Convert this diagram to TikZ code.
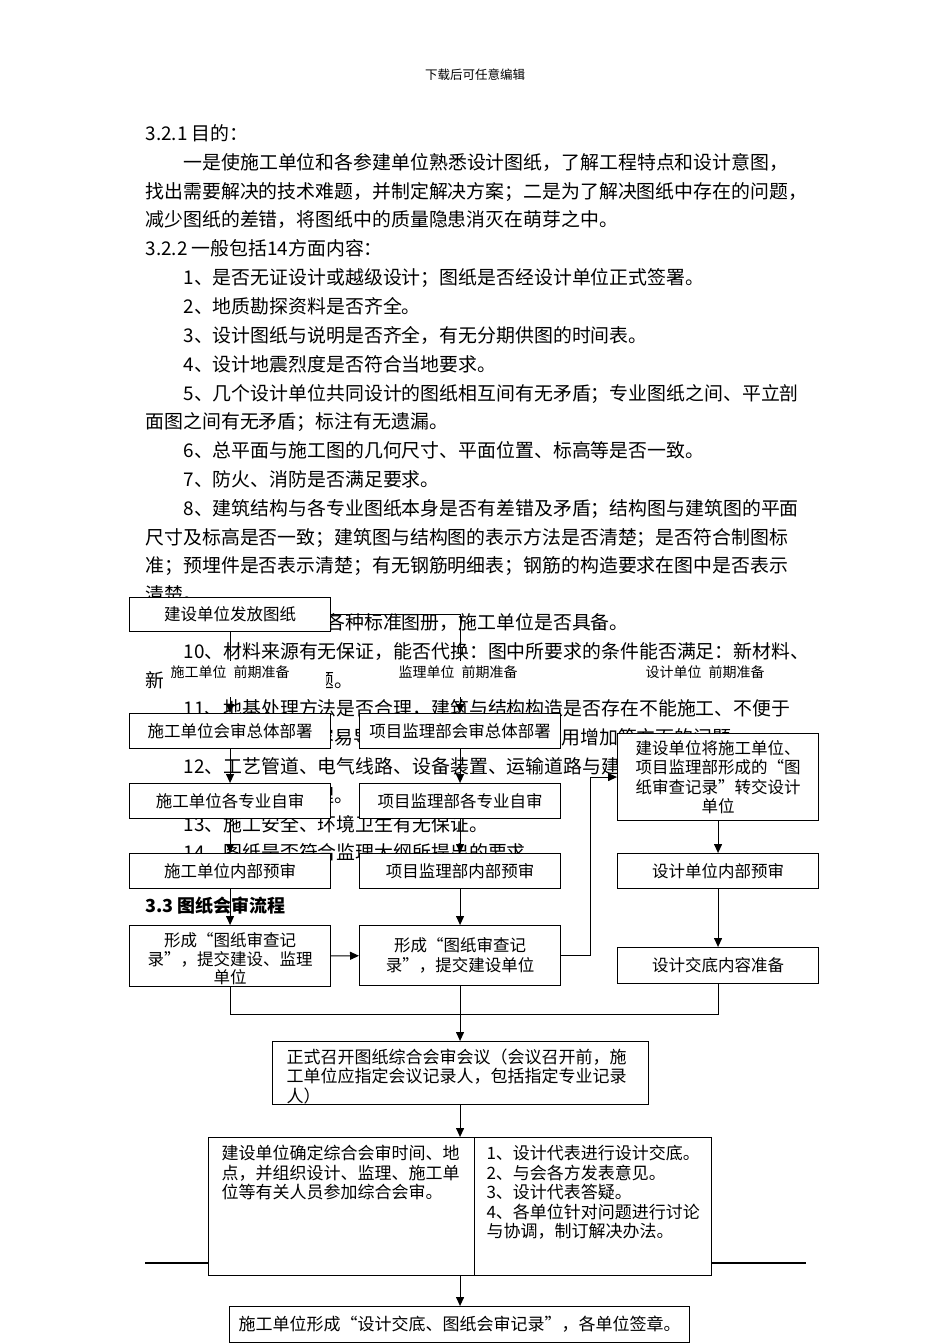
\documentclass[tikz,border=0pt]{standalone}
\usepackage{fontspec}
\setmainfont{Noto Sans CJK SC}
\usetikzlibrary{arrows.meta}

\begin{document}
\begin{tikzpicture}[x=1pt, y=-1pt, line width=1.1pt,
  body/.style={anchor=base west, inner sep=0pt, font=\fontsize{18.9}{23}\selectfont},
  box/.style={draw, fill=white, inner sep=2pt, align=center, anchor=north west,
    font=\fontsize{16.5}{19.5}\selectfont},
  colbox/.style={box, minimum width=201, minimum height=35},
  boxtext/.style={anchor=north west, align=left, inner xsep=14pt, inner ysep=7pt,
    font=\fontsize{17}{19.5}\selectfont},
  note/.style={fill=white, anchor=north west, inner xsep=8pt, inner ysep=2pt,
    text width=147pt, align=left, text height=15pt, text depth=17pt,
    font=\fontsize{14}{16}\selectfont},
  arr/.style={-{Triangle[length=9pt,width=8pt]}}]

  \useasboundingbox (0,0) rectangle (950,1344);

  % --- page header ---
  \node[font=\fontsize{12.5}{14}\selectfont] (hd) at (475,75) {下载后可任意编辑};

  % --- body text ---
  \node[body] (t1) at (145,140) {3.2.1 目的：};
  \node[body] (t2) at (183,169) {一是使施工单位和各参建单位熟悉设计图纸，了解工程特点和设计意图，};
  \node[body] (t3) at (145,198) {找出需要解决的技术难题，并制定解决方案；二是为了解决图纸中存在的问题，};
  \node[body] (t4) at (145,226) {减少图纸的差错，将图纸中的质量隐患消灭在萌芽之中。};
  \node[body] (t5) at (145,255) {3.2.2 一般包括14方面内容：};
  \node[body] (t6) at (183,284) {1、是否无证设计或越级设计；图纸是否经设计单位正式签署。};
  \node[body] (t7) at (183,313) {2、地质勘探资料是否齐全。};
  \node[body] (t8) at (183,342) {3、设计图纸与说明是否齐全，有无分期供图的时间表。};
  \node[body] (t9) at (183,371) {4、设计地震烈度是否符合当地要求。};
  \node[body] (t10) at (183,400) {5、几个设计单位共同设计的图纸相互间有无矛盾；专业图纸之间、平立剖};
  \node[body] (t11) at (145,428) {面图之间有无矛盾；标注有无遗漏。};
  \node[body] (t12) at (183,457) {6、总平面与施工图的几何尺寸、平面位置、标高等是否一致。};
  \node[body] (t13) at (183,486) {7、防火、消防是否满足要求。};
  \node[body] (t14) at (183,515) {8、建筑结构与各专业图纸本身是否有差错及矛盾；结构图与建筑图的平面};
  \node[body] (t15) at (145,544) {尺寸及标高是否一致；建筑图与结构图的表示方法是否清楚；是否符合制图标};
  \node[body] (t16) at (145,572) {准；预埋件是否表示清楚；有无钢筋明细表；钢筋的构造要求在图中是否表示};
  \node[body] (t17) at (145,601) {清楚。};
  \node[body] (t18) at (183,629) {9、施工图中所列各种标准图册，施工单位是否具备。};
  \node[body] (t19) at (183,658) {10、材料来源有无保证，能否代换：图中所要求的条件能否满足：新材料、};
  \node[body] (t20) at (145,687) {新技术的应用有无问题。};
  \node[body] (t21) at (183,715) {11、地基处理方法是否合理，建筑与结构构造是否存在不能施工、不便于};
  \node[body] (t22) at (145,744) {施工的技术问题，或容易导致质量、安全、工程费用增加等方面的问题。};
  \node[body] (t23) at (183,773) {12、工艺管道、电气线路、设备装置、运输道路与建筑物之间或相互间有};
  \node[body] (t24) at (145,802) {无矛盾，布置是否合理。};
  \node[body] (t25) at (183,831) {13、施工安全、环境卫生有无保证。};
  \node[body] (t26) at (183,859) {14、图纸是否符合监理大纲所提出的要求。};
  \node[body, font=\fontsize{18}{22}\selectfont\bfseries] (t27) at (145,912) {3.3 图纸会审流程};

  % --- rule behind the meeting boxes ---
  \draw (145,1263) -- (806,1263);

  % --- left column: construction unit ---
  \node[colbox, minimum height=34] (fa) at (129,597) {建设单位发放图纸};
  \node[colbox] (sg1) at (129,713) {施工单位会审总体部署};
  \node[colbox] (sg2) at (129,783) {施工单位各专业自审};
  \node[colbox] (sg3) at (129,853) {施工单位内部预审};
  \node[colbox, minimum height=61] (sg4) at (129,925) {};
  \node[anchor=north, align=center, inner ysep=7pt, font=\fontsize{16.5}{18.5}\selectfont]
    (sg4txt) at (sg4.north) {形成“图纸审查记\\录”，提交建设、监理\\单位};

  % --- middle column: supervision ---
  \node[colbox] (jl1) at (359,713) {项目监理部会审总体部署};
  \node[colbox] (jl2) at (359,783) {项目监理部各专业自审};
  \node[colbox] (jl3) at (359,853) {项目监理部内部预审};
  \node[colbox, minimum height=60] (jl4) at (359,925) {形成“图纸审查记\\录”，提交建设单位};

  % --- right column: design unit ---
  \node[colbox, minimum height=87] (sj1) at (617,733) {建设单位将施工单位、\\项目监理部形成的“图\\纸审查记录”转交设计\\单位};
  \node[colbox] (sj2) at (617,853) {设计单位内部预审};
  \node[colbox, minimum height=36] (sj3) at (617,947) {设计交底内容准备};

  % --- meeting ---
  \node[box, minimum width=376, minimum height=63] (hy) at (272,1041) {};
  \node[boxtext] (hytxt) at (hy.north west) {正式召开图纸综合会审会议（会议召开前，施\\工单位应指定会议记录人，包括指定专业记录\\人）};
  \node[box, minimum width=266, minimum height=138] (mtl) at (208,1137) {};
  \node[box, minimum width=237, minimum height=138] (mtr) at (474,1137) {};
  \node[boxtext, inner xsep=13pt, inner ysep=8pt] (mtltxt) at (mtl.north west) {建设单位确定综合会审时间、地\\点，并组织设计、监理、施工单\\位等有关人员参加综合会审。};
  \node[boxtext, inner xsep=12pt, inner ysep=8pt] (mtrtxt) at (mtr.north west) {1、设计代表进行设计交底。\\2、与会各方发表意见。\\3、设计代表答疑。\\4、各单位针对问题进行讨论\\与协调，制订解决办法。};
  \node[box, minimum width=460, minimum height=36, font=\fontsize{17}{19.5}\selectfont] (qz) at (229,1306) {施工单位形成“设计交底、图纸会审记录”，各单位签章。};

  % --- connectors ---
  \draw[arr] (fa.south) -- (sg1.north);
  \draw[arr] (fa.east) -| (jl1.north);
  \draw[arr] (sg1) -- (sg2);
  \draw[arr] (sg2) -- (sg3);
  \draw[arr] (sg3) -- (sg4);
  \draw[arr] (jl1) -- (jl2);
  \draw[arr] (jl2) -- (jl3);
  \draw[arr] (jl3) -- (jl4);
  \draw[arr] (sg4) -- (jl4);
  \draw[arr] (jl4.east) -- ++(29,0) |- (sj1.west);
  \draw[arr] (sj1) -- (sj2);
  \draw[arr] (sj2) -- (sj3);
  \draw (sg4.south) -- ++(0,27) -| (sj3.south);
  \draw[arr] (jl4.south) -- (jl4.south |- hy.north);
  \draw[arr] (jl4.south |- hy.south) -- (jl4.south |- mtl.north);
  \draw[arr] (jl4.south |- mtl.south) -- (jl4.south |- qz.north);

  % --- stage labels ---
  \node[note] (ns) at (162,660) {施工单位\enspace 前期准备};
  \node[note] (nj) at (390,660) {监理单位\enspace 前期准备};
  \node[note] (nd) at (637,660) {设计单位\enspace 前期准备};

\end{tikzpicture}
\end{document}
